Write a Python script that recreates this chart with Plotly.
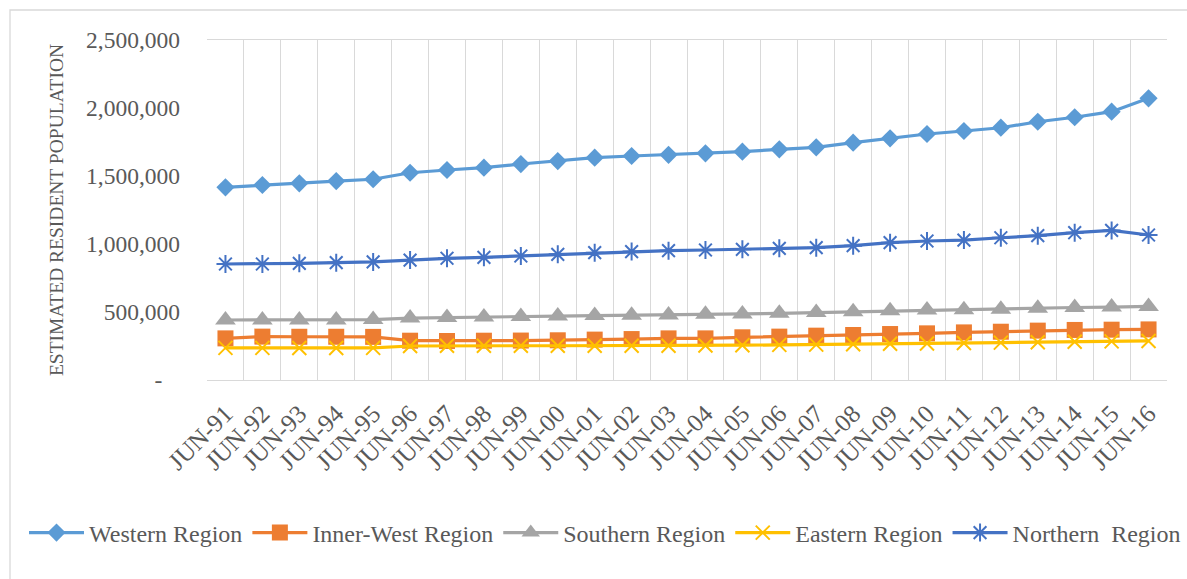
import plotly.graph_objects as go

categories = ["JUN-91","JUN-92","JUN-93","JUN-94","JUN-95","JUN-96","JUN-97","JUN-98","JUN-99","JUN-00",
              "JUN-01","JUN-02","JUN-03","JUN-04","JUN-05","JUN-06","JUN-07","JUN-08","JUN-09","JUN-10",
              "JUN-11","JUN-12","JUN-13","JUN-14","JUN-15","JUN-16"]

western = [1417000,1434000,1446000,1463000,1476000,1524000,1544000,1561000,1588000,1610000,
           1635000,1647000,1656000,1667000,1679000,1696000,1711000,1745000,1777000,1809000,
           1831000,1855000,1899000,1932000,1973000,2071000]
inner_west = [306000,319000,318000,318000,317000,289000,287000,289000,290000,292000,
              297000,301000,306000,306000,314000,319000,326000,331000,338000,343000,
              350000,355000,363000,368000,370000,372000]
southern = [441000,441000,441000,442000,444000,455000,460000,464000,467000,470000,
            474000,476000,478000,483000,485000,490000,496000,502000,509000,514000,
            517000,521000,527000,533000,536000,541000]
eastern = [236000,236000,235000,235000,236000,250000,252000,252000,252000,252000,
           252000,252000,252000,254000,256000,258000,260000,263000,266000,269000,
           272000,275000,278000,281000,284000,287000]
northern = [853000,853000,858000,863000,868000,882000,895000,902000,912000,924000,
            936000,944000,951000,956000,961000,968000,973000,988000,1010000,1022000,
            1029000,1046000,1061000,1083000,1100000,1066000]

y_tickvals = [0, 500000, 1000000, 1500000, 2000000, 2500000]
y_ticktext = ["-\u00a0\u00a0\u00a0", "500,000", "1,000,000", "1,500,000", "2,000,000", "2,500,000"]

FONT = "Liberation Serif, Times New Roman, serif"
GREY = "#595959"

series = [
    ("Western Region", western, "#5B9BD5", dict(symbol="diamond", size=14)),
    ("Inner-West Region", inner_west, "#ED7D31", dict(symbol="square", size=16)),
    ("Southern Region", southern, "#A5A5A5", dict(symbol="triangle-up", size=18)),
    ("Eastern Region", eastern, "#FFC000", dict(symbol="x-thin-open", size=14, line=dict(width=2, color="#FFC000"))),
    ("Northern  Region", northern, "#4472C4", dict(symbol="asterisk-open", size=15, line=dict(width=2, color="#4472C4"))),
]

fig = go.Figure()
for name, vals, color, mk in series:
    marker = dict(color=color, **mk)
    fig.add_trace(go.Scatter(x=categories, y=vals, name=name, mode="lines+markers",
                             line=dict(color=color, width=3.2), marker=marker))

W, H = 1187, 579
L, R, T, B = 207, 20, 40, 199
pw, ph = W - L - R, H - T - B

def px_x(x):
    return (x - L) / pw

def px_y(y):
    return (H - B - y) / ph

fig.update_layout(
    width=W, height=H,
    margin=dict(l=L, r=R, t=T, b=B, autoexpand=False),
    paper_bgcolor="white", plot_bgcolor="white",
    font=dict(family=FONT, color=GREY, size=22),
    showlegend=True,
    legend=dict(orientation="h", x=px_x(24), xanchor="left", y=px_y(533), yanchor="middle",
                font=dict(family=FONT, size=24, color=GREY), itemwidth=55,
                bgcolor="rgba(0,0,0,0)"),
    xaxis=dict(type="category", tickson="boundaries", showgrid=True, gridcolor="#D9D9D9",
               gridwidth=1.3, showline=True, linecolor="#D9D9D9", linewidth=1.3, mirror=True,
               ticks="", tickangle=-45, tickfont=dict(family=FONT, size=25, color=GREY),
               ticklabelstandoff=8,
               range=[-0.5, 25.5], automargin=False),
    yaxis=dict(range=[0, 2500000], tickvals=y_tickvals, ticktext=y_ticktext, showgrid=False,
               zeroline=False, showline=False, ticks="", ticklabelstandoff=26,
               tickfont=dict(family=FONT, size=23.5, color=GREY),
               title=dict(text="ESTIMATED RESIDENT POPULATION", standoff=17,
                          font=dict(family=FONT, size=19.5, color=GREY)),
               automargin=False),
    shapes=[dict(type="rect", xref="paper", yref="paper",
                 x0=px_x(10), x1=px_x(1195), y0=px_y(590), y1=px_y(10),
                 line=dict(color="#D9D9D9", width=1.3), fillcolor="rgba(0,0,0,0)", layer="below")],
    hovermode=False,
)

fig.write_html("out.html")
